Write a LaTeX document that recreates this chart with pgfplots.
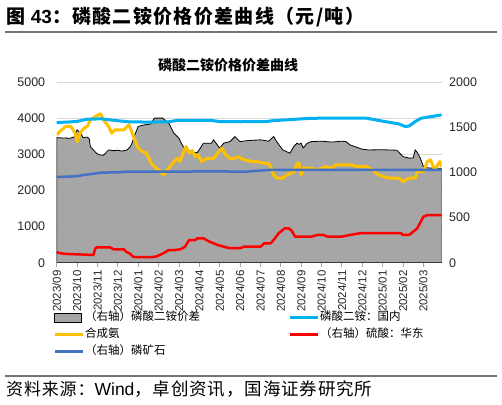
\documentclass[border=0pt]{standalone}
\usepackage{fontspec}
\setmainfont{Liberation Sans}
\newfontfamily\cjk{Noto Sans CJK SC}
\newfontfamily\cjkT[LetterSpace=7]{Noto Sans CJK SC}
\newfontfamily\cjkS[LetterSpace=5]{Noto Sans CJK SC}
\usepackage{pgfplots}
\pgfplotsset{compat=1.18}
\definecolor{lightbluec}{RGB}{0,176,240}
\definecolor{yellowc}{RGB}{255,192,0}
\definecolor{redc}{RGB}{255,0,0}
\definecolor{darkbluec}{RGB}{68,114,196}
\definecolor{areagray}{RGB}{166,166,166}
\pgfplotsset{
  base/.style={scale only axis, width=385pt, height=180.7pt, at={(56.7pt,141.3pt)}, anchor=south west,
    xmin=0, xmax=18.9},
}
\begin{document}
\begin{tikzpicture}
\path[use as bounding box] (0pt,0pt) rectangle (502pt,404pt);
\node[anchor=west, inner sep=0pt] at (6pt,387pt) {\fontsize{19}{22}\selectfont\bfseries\cjkT 图 \normalfont\fontsize{19}{22}\selectfont\bfseries 43\cjkT ：磷酸二铵价格价差曲线（元/吨）};
\draw[black!55, line width=1.5pt] (5pt,372pt) -- (497pt,372pt);
\node at (228pt,339pt) {\fontsize{14}{16}\selectfont\cjk\bfseries 磷酸二铵价格价差曲线};

% Axis A: left axis, grid, x ticks
\begin{axis}[base, ymin=0, ymax=5000, ytick={0,1000,...,5000},
  ymajorgrids, grid style={draw=black!15, line width=0.8pt},
  axis x line*=bottom, axis y line*=left,
  x axis line style={draw=black!35, line width=0.8pt},
  y axis line style={draw=none},
  ytick style={draw=none},
  xtick={0,...,18}, tick align=outside,
  xtick style={draw=black!35, line width=0.8pt}, major tick length=4pt,
  xticklabels={2023/09,2023/10,2023/11,2023/12,2024/01,2024/02,2024/03,2024/04,2024/05,2024/06,2024/07,2024/08,2024/09,2024/10,2024/11,2024/12,2025/01,2025/02,2025/03},
  xticklabel style={rotate=90, anchor=east, font=\fontsize{11.5}{13}\selectfont, color=black!85},
  yticklabel style={font=\fontsize{12.5}{14}\selectfont, color=black!85},
  /pgf/number format/assume math mode=true, /pgf/number format/1000 sep={},
  yticklabel shift=4pt,
]
\end{axis}

% Axis B: right axis with area
\begin{axis}[base, ymin=0, ymax=2000, ytick={0,500,...,2000},
  axis y line*=right, axis x line=none,
  y axis line style={draw=none}, ytick style={draw=none},
  yticklabel style={font=\fontsize{12.5}{14}\selectfont, color=black!85},
  /pgf/number format/assume math mode=true, /pgf/number format/1000 sep={},
  yticklabel shift=4pt,
]
\addplot[fill=areagray, draw=black, line width=0.8pt] coordinates {
(0,1385)(0.3,1380)(0.65,1378)(0.85,1390)(1.0,1470)(1.15,1440)(1.3,1385)(1.5,1390)(1.6,1370)(1.65,1285)(1.95,1212)(2.1,1193)(2.3,1190)(2.55,1248)(2.8,1240)(3.0,1245)(3.2,1235)(3.45,1248)(3.6,1280)(3.7,1323)(3.8,1396)(4.0,1508)(4.3,1525)(4.6,1535)(4.8,1600)(5.2,1600)(5.5,1545)(5.75,1434)(6.0,1378)(6.2,1285)(6.45,1248)(6.7,1215)(6.9,1220)(7.05,1268)(7.2,1323)(7.6,1323)(7.7,1360)(8.0,1268)(8.2,1323)(8.5,1340)(8.75,1396)(9.0,1340)(9.3,1350)(10.0,1360)(10.4,1345)(10.65,1396)(10.8,1340)(11.1,1248)(11.45,1212)(11.65,1290)(11.8,1323)(11.9,1310)(12.0,1323)(12.1,1270)(12.3,1323)(12.5,1340)(13.0,1345)(13.5,1335)(14.0,1345)(14.2,1340)(14.4,1304)(15.0,1256)(15.3,1248)(16.0,1250)(16.7,1245)(17.0,1174)(17.3,1157)(17.5,1160)(17.6,1248)(17.7,1220)(17.85,1157)(18.0,1064)(18.2,1050)(18.5,1045)(18.9,1045)
} \closedcycle;
\end{axis}

% Axis C: left axis lines
\begin{axis}[base, ymin=0, ymax=5000, hide axis]
\addplot[yellowc, line width=3pt, line join=round] coordinates {
(0,3537)(0.15,3630)(0.45,3770)(0.7,3770)(0.9,3585)(1.0,3350)(1.15,3585)(1.3,3700)(1.5,3770)(1.65,3950)(1.9,4045)(2.15,4120)(2.3,3950)(2.55,3770)(2.7,3585)(2.85,3675)(3.0,3675)(3.3,3675)(3.55,3815)(3.8,3446)(4.0,3170)(4.2,3075)(4.4,3030)(4.6,2800)(4.7,2706)(5.0,2568)(5.25,2430)(5.5,2615)(5.9,2890)(6.05,2800)(6.2,3030)(6.35,3213)(6.5,3030)(6.65,3100)(6.8,2935)(6.95,2980)(7.1,2800)(7.4,2890)(7.7,2890)(8.1,3170)(8.3,2980)(8.5,2890)(8.75,2890)(8.9,2935)(9.2,2845)(9.6,2800)(9.8,2800)(10.2,2750)(10.4,2750)(10.5,2660)(10.65,2430)(10.8,2340)(11.1,2340)(11.3,2430)(11.65,2520)(11.8,2750)(11.9,2750)(12.0,2430)(12.1,2615)(12.5,2615)(12.8,2570)(13.2,2660)(13.5,2615)(13.7,2706)(14.5,2706)(14.7,2660)(15.2,2660)(15.5,2568)(15.8,2430)(16.3,2340)(16.8,2340)(17.0,2245)(17.3,2340)(17.6,2340)(17.7,2520)(18.0,2520)(18.2,2800)(18.35,2845)(18.55,2568)(18.8,2800)(18.9,2660)
};
\addplot[lightbluec, line width=3pt, line join=round] coordinates {
(0,3880)(0.5,3890)(1.0,3910)(1.5,3970)(2.2,3980)(2.8,3940)(3.5,3900)(4.5,3890)(5.5,3900)(5.9,3935)(7.6,3935)(8.0,3906)(9.0,3900)(10.3,3906)(10.6,3930)(11.5,3960)(12.3,3990)(13,4000)(15.2,4000)(16.1,3906)(16.8,3840)(17.1,3770)(17.3,3780)(17.6,3906)(17.9,4000)(18.4,4045)(18.9,4090)
};
\end{axis}

% Axis D: right axis lines + legend
\begin{axis}[base, ymin=0, ymax=2000, hide axis,
  legend columns=2, legend cell align=left,
  legend image code/.code={\draw[#1] (0pt,0pt) -- (28pt,0pt);},
  legend style={draw=none, fill=none, inner sep=0pt, at={(-0.0096,-0.273)}, anchor=north west,
    font=\fontsize{11.5}{13}\selectfont, row sep=6pt,
    nodes={inner sep=0pt, text height=8.5pt, text depth=2.5pt},
    /tikz/every odd column/.append style={column sep=1pt},
    /tikz/every even column/.append style={column sep=88pt}},
]
\addplot[redc, line width=2.5pt, line join=round, forget plot] coordinates {
(0,115)(0.3,100)(0.6,96)(1.3,90)(1.8,85)(1.9,160)(2.0,171)(2.6,171)(2.8,148)(3.3,148)(3.4,122)(3.6,100)(3.75,66)(3.9,62)(4.7,62)(4.9,70)(5.2,100)(5.5,140)(5.8,140)(6.1,150)(6.3,177)(6.5,251)(6.8,251)(6.9,270)(7.2,270)(7.5,233)(7.9,196)(8.2,177)(8.5,160)(9.0,160)(9.2,177)(10.0,177)(10.2,215)(10.5,215)(10.65,251)(10.9,326)(11.2,381)(11.4,381)(11.55,350)(11.7,288)(12.5,288)(12.8,307)(13.1,307)(13.3,288)(14.0,288)(14.4,307)(14.9,326)(16.9,326)(17.0,307)(17.3,307)(17.5,343)(17.7,381)(18.0,509)(18.2,527)(18.9,527)
};
\addplot[darkbluec, line width=2.5pt, line join=round, forget plot] coordinates {
(0,950)(0.5,952)(1.0,958)(1.3,970)(1.8,985)(2.2,997)(3.0,1000)(3.5,1008)(8.0,1010)(9.3,1008)(10.0,1020)(10.5,1027)(18.9,1027)
};
\addlegendimage{legend image code/.code={\draw[fill=areagray, draw=black, line width=0.8pt] (0pt,-4.5pt) rectangle (27pt,4.5pt);}}
\addlegendentry{\cjk（右轴）磷酸二铵价差}
\addlegendimage{lightbluec, line width=3pt}
\addlegendentry{\cjk 磷酸二铵：国内}
\addlegendimage{yellowc, line width=3pt}
\addlegendentry{\cjk 合成氨}
\addlegendimage{redc, line width=3pt}
\addlegendentry{\cjk（右轴）硫酸：华东}
\addlegendimage{darkbluec, line width=3pt}
\addlegendentry{\cjk（右轴）磷矿石}
\end{axis}

\draw[black!55, line width=1.5pt] (5pt,28pt) -- (497pt,28pt);
\node[anchor=west, inner sep=0pt] at (6pt,15pt) {\fontsize{17}{19}\selectfont\cjkS 资料来源：\normalfont\fontsize{17.5}{19}\selectfont Wind\cjkS ，卓创资讯，国海证券研究所};
\end{tikzpicture}
\end{document}
